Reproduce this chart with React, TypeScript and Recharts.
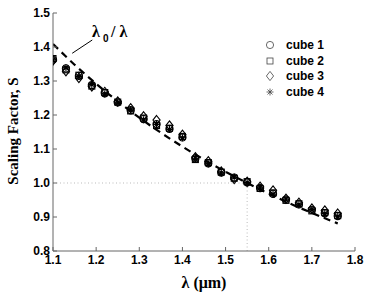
import React from 'react';
import { ComposedChart, Scatter, Line, XAxis, YAxis, ReferenceLine, Legend } from 'recharts';

// wavelength of each measurement (um)
const lambda = [1.10, 1.13, 1.16, 1.19, 1.22, 1.25, 1.28, 1.31, 1.34, 1.37, 1.40, 1.43, 1.46, 1.49, 1.52, 1.55, 1.58, 1.61, 1.64, 1.67, 1.70, 1.73, 1.76];

const cube1 = [1.363, 1.337, 1.315, 1.288, 1.264, 1.237, 1.214, 1.188, 1.173, 1.159, 1.134, 1.072, 1.058, 1.031, 1.016, 1.002, 0.985, 0.968, 0.951, 0.937, 0.921, 0.911, 0.903];
const cube2 = [1.366, 1.333, 1.317, 1.285, 1.266, 1.238, 1.212, 1.191, 1.169, 1.161, 1.137, 1.069, 1.060, 1.032, 1.014, 1.004, 0.984, 0.971, 0.949, 0.939, 0.918, 0.913, 0.904];
const cube3 = [1.360, 1.329, 1.309, 1.284, 1.268, 1.240, 1.220, 1.196, 1.185, 1.169, 1.142, 1.076, 1.064, 1.034, 1.012, 1.004, 0.989, 0.978, 0.954, 0.942, 0.925, 0.919, 0.910];
const cube4 = [1.362, 1.339, 1.313, 1.290, 1.262, 1.236, 1.215, 1.186, 1.172, 1.157, 1.133, 1.073, 1.056, 1.030, 1.017, 1.001, 0.986, 0.967, 0.952, 0.936, 0.922, 0.910, 0.902];

// dashed lambda0 / lambda curve
const curveX = [1.10, 1.15, 1.20, 1.25, 1.30, 1.35, 1.40, 1.45, 1.50, 1.55, 1.60, 1.65, 1.70, 1.76];
const curveY = [1.409, 1.348, 1.292, 1.240, 1.192, 1.148, 1.107, 1.069, 1.033, 1.000, 0.969, 0.939, 0.912, 0.881];

const xTicks = [1.1, 1.2, 1.3, 1.4, 1.5, 1.6, 1.7, 1.8];
const yTicks = [0.8, 0.9, 1.0, 1.1, 1.2, 1.3, 1.4, 1.5];

const seriesNames = ['cube 1', 'cube 2', 'cube 3', 'cube 4'];
type Kind = 'circle' | 'square' | 'diamond' | 'star';
const kinds: Kind[] = ['circle', 'square', 'diamond', 'star'];

const AXIS = '#666';
const SANS = '"Liberation Sans", Arial, sans-serif';
const SERIF = '"Liberation Serif", "Times New Roman", serif';

const toPoints = (xs: number[], ys: number[]) => xs.map((x, i) => ({ x, y: ys[i] }));

function Marker({ kind, cx, cy, color = '#000', w = 1.1 }: { kind: Kind; cx: number; cy: number; color?: string; w?: number }) {
  if (kind === 'circle') return <circle cx={cx} cy={cy} r={3.6} fill="none" stroke={color} strokeWidth={w} />;
  if (kind === 'square') return <rect x={cx - 3} y={cy - 3} width={6} height={6} fill="none" stroke={color} strokeWidth={w} />;
  if (kind === 'diamond')
    return (
      <polygon
        points={`${cx},${cy - 4.6} ${cx + 3.6},${cy} ${cx},${cy + 4.6} ${cx - 3.6},${cy}`}
        fill="none"
        stroke={color}
        strokeWidth={w}
      />
    );
  return (
    <path
      d={`M${cx - 3.5} ${cy}H${cx + 3.5}M${cx} ${cy - 3.5}V${cy + 3.5}M${cx - 2.5} ${cy - 2.5}L${cx + 2.5} ${cy + 2.5}M${cx - 2.5} ${cy + 2.5}L${cx + 2.5} ${cy - 2.5}`}
      fill="none"
      stroke={color}
      strokeWidth={w}
    />
  );
}

const shapeFor = (kind: Kind) => (p: any) => <Marker kind={kind} cx={p.cx} cy={p.cy} />;

const tickText = { fontFamily: SANS, fontWeight: 'bold' as const, fontSize: 12, fill: '#000' };

function BottomTick({ x, y, payload }: any) {
  return (
    <g>
      <line x1={x} x2={x} y1={y} y2={y - 4} stroke={AXIS} />
      <text x={x} y={y + 13} textAnchor="middle" {...tickText}>{Number(payload.value).toFixed(1)}</text>
    </g>
  );
}

function LeftTick({ x, y, payload }: any) {
  return (
    <g>
      <line x1={x} x2={x + 4} y1={y} y2={y} stroke={AXIS} />
      <text x={x - 3} y={y + 4} textAnchor="end" {...tickText}>{Number(payload.value).toFixed(1)}</text>
    </g>
  );
}

function TopTick({ x, y }: any) {
  return <line x1={x} x2={x} y1={y} y2={y + 4} stroke={AXIS} />;
}

function RightTick({ x, y }: any) {
  return <line x1={x} x2={x - 4} y1={y} y2={y} stroke={AXIS} />;
}

function LegendBox() {
  return (
    <div style={{ fontFamily: SANS, fontWeight: 'bold', fontSize: 12, color: '#000' }}>
      {seriesNames.map((name, i) => (
        <div key={name} style={{ display: 'flex', alignItems: 'center', height: 15.8 }}>
          <svg width={16} height={12}>
            <Marker kind={kinds[i]} cx={8} cy={6} color="#444" w={0.8} />
          </svg>
          <span style={{ marginLeft: 8 }}>{name}</span>
        </div>
      ))}
    </div>
  );
}

export default function App() {
  const curve = toPoints(curveX, curveY);
  const series = [cube1, cube2, cube3, cube4];

  return (
    <div style={{ position: 'absolute', left: 0, top: 0, width: 390, height: 294, background: '#fff' }}>
      <ComposedChart width={390} height={294} margin={{ top: 13, right: 35, bottom: 0, left: 0 }}>
        <XAxis
          dataKey="x"
          type="number"
          domain={[1.1, 1.8]}
          ticks={xTicks}
          interval={0}
          allowDataOverflow
          height={43}
          tickSize={0}
          tickMargin={0}
          tickLine={false}
          stroke={AXIS}
          tick={<BottomTick />}
          label={{
            content: () => (
              <text x={204} y={288} textAnchor="middle" fontFamily={SERIF} fontWeight="bold" fontSize={16} fill="#000">
                λ (μm)
              </text>
            ),
          }}
        />
        <XAxis
          xAxisId="top"
          dataKey="x"
          type="number"
          orientation="top"
          domain={[1.1, 1.8]}
          ticks={xTicks}
          interval={0}
          allowDataOverflow
          height={0}
          tickSize={0}
          tickMargin={0}
          tickLine={false}
          stroke={AXIS}
          tick={<TopTick />}
        />
        <YAxis
          dataKey="y"
          type="number"
          domain={[0.8, 1.5]}
          ticks={yTicks}
          interval={0}
          allowDataOverflow
          width={53}
          tickSize={0}
          tickMargin={0}
          tickLine={false}
          stroke={AXIS}
          tick={<LeftTick />}
          label={{
            content: () => (
              <text
                x={13}
                y={131}
                transform="rotate(-90 13 131)"
                textAnchor="middle"
                dominantBaseline="central"
                fontFamily={SERIF}
                fontWeight="bold"
                fontSize={15}
                fill="#000"
              >
                Scaling Factor, S
              </text>
            ),
          }}
        />
        <YAxis
          yAxisId="right"
          orientation="right"
          type="number"
          domain={[0.8, 1.5]}
          ticks={yTicks}
          interval={0}
          allowDataOverflow
          width={0}
          tickSize={0}
          tickMargin={0}
          tickLine={false}
          stroke={AXIS}
          tick={<RightTick />}
        />

        <ReferenceLine segment={[{ x: 1.1, y: 1.0 }, { x: 1.55, y: 1.0 }]} stroke="#bbb" strokeDasharray="1 2.5" />
        <ReferenceLine segment={[{ x: 1.55, y: 0.8 }, { x: 1.55, y: 1.0 }]} stroke="#bbb" strokeDasharray="1 2.5" />
        <ReferenceLine segment={[{ x: 1.1445, y: 1.3815 }, { x: 1.191, y: 1.4206 }]} stroke="#000" strokeWidth={1} />

        <Line
          data={curve}
          dataKey="y"
          type="monotone"
          stroke="#000"
          strokeWidth={2.2}
          strokeDasharray="7 5"
          dot={false}
          legendType="none"
          isAnimationActive={false}
        />
        {series.map((ys, i) => (
          <Scatter
            key={seriesNames[i]}
            name={seriesNames[i]}
            data={toPoints(lambda, ys)}
            dataKey="y"
            shape={shapeFor(kinds[i])}
            isAnimationActive={false}
          />
        ))}

        <Legend
          layout="horizontal"
          verticalAlign="middle"
          align="center"
          content={<LegendBox />}
          wrapperStyle={{ left: 262, top: 37, width: 90 }}
        />

        <text x={92} y={37} fontFamily={SERIF} fontWeight="bold" fontSize={16} fill="#000">
          λ
        </text>
        <text x={103} y={42} fontFamily={SANS} fontWeight="bold" fontSize={10} fill="#000">
          0
        </text>
        <text x={111} y={37} fontFamily={SERIF} fontWeight="bold" fontSize={16} fill="#000">
          / λ
        </text>
      </ComposedChart>
    </div>
  );
}
